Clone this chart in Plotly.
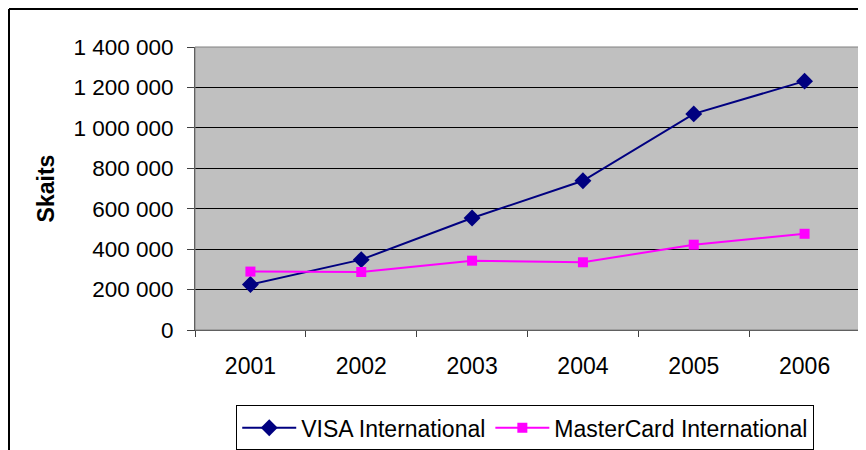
import plotly.graph_objects as go

years = ["2001", "2002", "2003", "2004", "2005", "2006"]
visa = [225000, 348000, 554000, 738000, 1069000, 1231000]
mastercard = [289000, 287000, 343000, 335000, 422000, 476000]
y_ticks = [0, 200000, 400000, 600000, 800000, 1000000, 1200000, 1400000]

# page body has an 8px margin, so the figure is drawn at (8, 8)
W, H = 858, 442
L, R, T, B = 187, 6, 39, 119.5

fig = go.Figure()
fig.add_trace(go.Scatter(
    x=years, y=visa, name="VISA International", mode="lines+markers",
    line=dict(color="#000080", width=2),
    marker=dict(symbol="diamond", size=13, color="#000080"),
))
fig.add_trace(go.Scatter(
    x=years, y=mastercard, name="MasterCard International", mode="lines+markers",
    line=dict(color="#FF00FF", width=2),
    marker=dict(symbol="square", size=10, color="#FF00FF"),
))

font = "Liberation Sans, Arial, sans-serif"
pw = W - L - R
ph = H - T - B
fx = (1 - L) / pw
fy = 1 + (T - 1) / ph

fig.update_layout(
    width=W, height=H,
    margin=dict(l=L, r=R, t=T, b=B, pad=0, autoexpand=False),
    paper_bgcolor="white",
    plot_bgcolor="#C0C0C0",
    separators=", ",
    font=dict(family=font, size=22, color="black"),
    showlegend=True,
    legend=dict(
        orientation="h", x=0.062, y=-0.266, xanchor="left", yanchor="top",
        bordercolor="black", borderwidth=1, bgcolor="white",
        font=dict(family=font, size=23, color="black"),
        itemwidth=54, tracegroupgap=0,
    ),
    xaxis=dict(
        type="category", range=[-0.5, len(years) - 0.5],
        tickson="boundaries", ticks="outside", ticklen=6,
        tickcolor="#404040", showline=True, linecolor="#404040", linewidth=1,
        showgrid=False, tickfont=dict(size=23), ticklabelstandoff=15,
        automargin=False,
    ),
    yaxis=dict(
        range=[0, 1400000], tickvals=y_ticks, tickformat=",d",
        ticks="outside", ticklen=7, tickcolor="#404040",
        showline=True, linecolor="#404040", linewidth=1,
        showgrid=True, gridcolor="black", gridwidth=1, zeroline=False,
        tickfont=dict(size=22.5), ticklabelstandoff=9, automargin=False,
        title=dict(text="<b>Skaits</b>", font=dict(size=23), standoff=12),
    ),
    shapes=[
        dict(type="rect", xref="paper", yref="paper", x0=0, x1=1, y0=0, y1=1,
             line=dict(color="#808080", width=1), layer="above"),
        dict(type="line", xref="paper", yref="paper",
             x0=fx, x1=1.2, y0=fy, y1=fy,
             line=dict(color="black", width=2)),
        dict(type="line", xref="paper", yref="paper",
             x0=fx, x1=fx, y0=fy, y1=-1,
             line=dict(color="black", width=2)),
    ],
)

fig.write_html("out.html")
